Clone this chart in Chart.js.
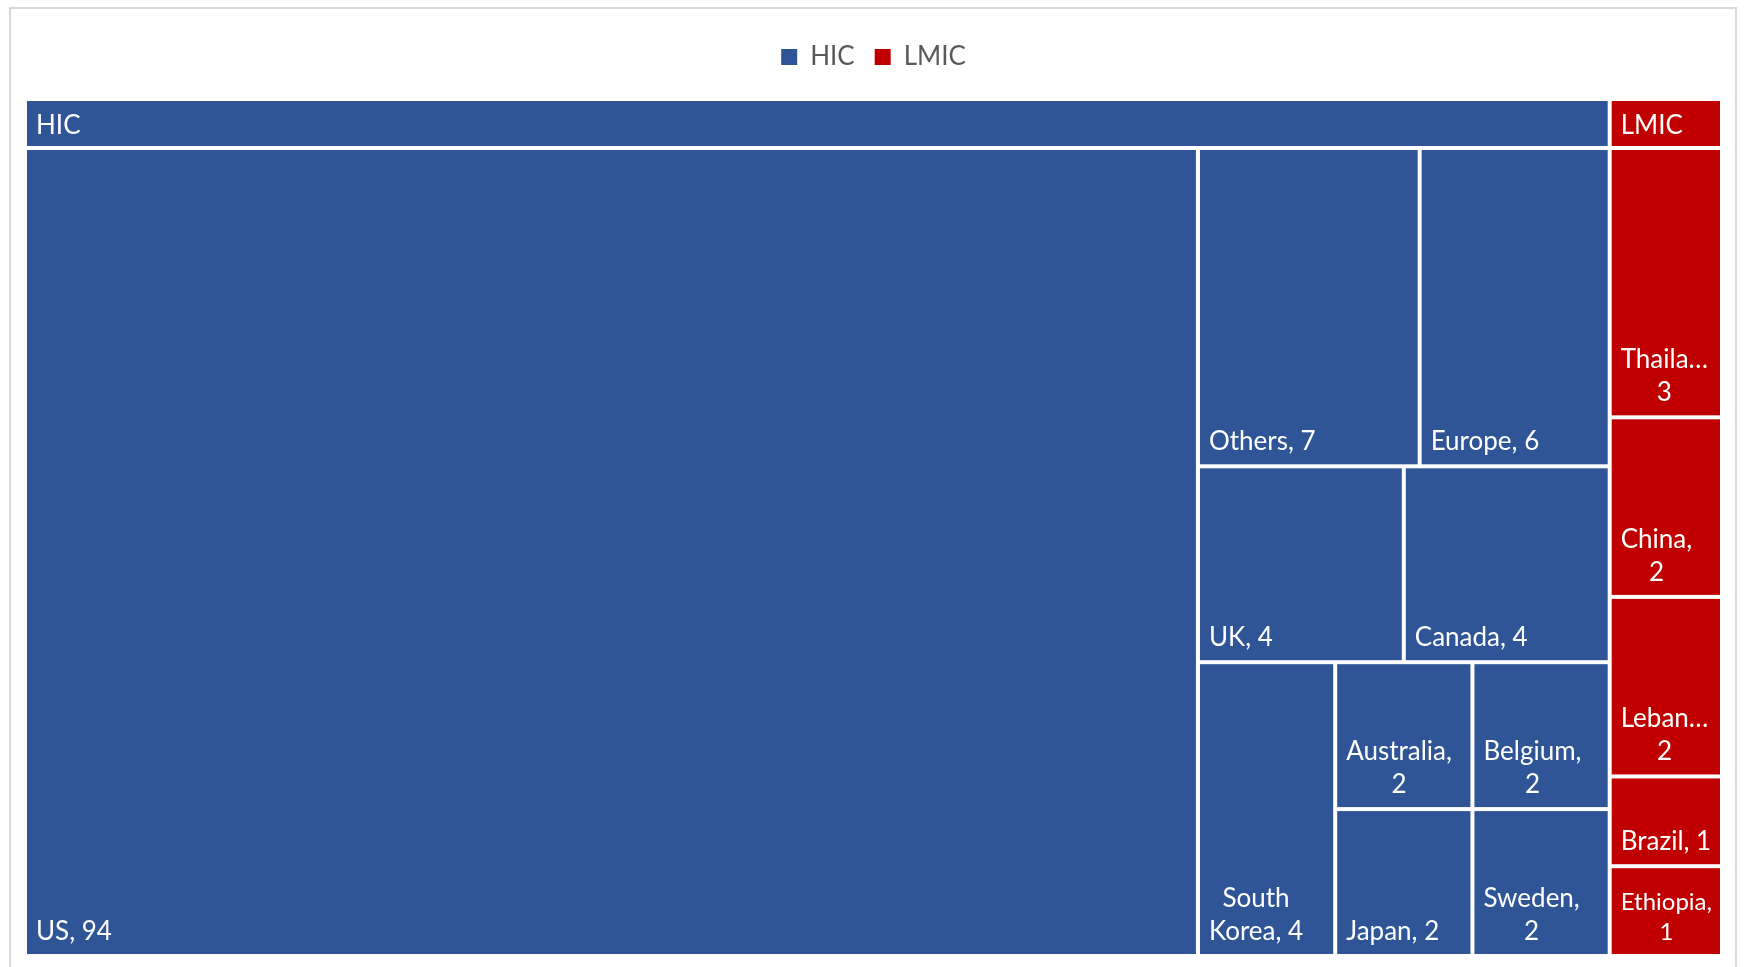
<!DOCTYPE html>
<html lang="en">
<head>
<meta charset="UTF-8" />
<title>Studies by Country Income Group</title>
<script src="https://cdn.jsdelivr.net/npm/chart.js"></script>
<style>
  body { margin: 0; background: #ffffff; }
  .frame {
    position: absolute; left: 9px; top: 7px;
    width: 1728px; height: 1000px;
    border: 2px solid #d9d9d9; box-sizing: border-box;
  }
  canvas { position: absolute; left: 0; top: 0; }
</style>
</head>
<body>
<div class="frame"></div>
<canvas id="treemap" width="1745" height="967"></canvas>
<script>
// number of studies per country, split by income group
const groups = ['HIC', 'LMIC'];
const groupColors = ['#2f5597', '#c00000'];
const hicCountries = ['US', 'Others', 'Europe', 'UK', 'Canada', 'South Korea', 'Australia', 'Belgium', 'Japan', 'Sweden'];
const hicCounts = [94, 7, 6, 4, 4, 4, 2, 2, 2, 2];
const lmicCountries = ['Thailand', 'China', 'Lebanon', 'Brazil', 'Ethiopia'];
const lmicCounts = [3, 2, 2, 1, 1];

const groupCountries = [hicCountries, lmicCountries];
const groupCounts = [hicCounts, lmicCounts];
const sum = arr => arr.reduce((a, b) => a + b, 0);
const groupTotals = groupCounts.map(sum);
const grandTotal = sum(groupTotals);

const FONT = 'Lato';
const TOP_GAP = 19;     // space between legend and treemap
const HEADER_PX = 49;   // height of the group header band
const GAP = 2;          // white border drawn around every cell

// worst aspect ratio of a row laid along a side of the given length
function worstRatio(row, side, areaPerValue) {
  const thick = sum(row.map(r => r.v)) * areaPerValue / side;
  let w = 0;
  row.forEach(r => {
    const len = r.v * areaPerValue / thick;
    w = Math.max(w, len / thick, thick / len);
  });
  return w;
}

// squarified layout in scale units; kx / ky are pixels per unit
function squarify(values, rect, kx, ky) {
  const out = [];
  const items = values.map((v, i) => ({ v, i }));
  let { x, y, w, h } = rect;
  let rest = sum(values);
  let start = 0;
  while (start < items.length) {
    const pw = w * kx, ph = h * ky;
    const column = pw >= ph;
    const side = column ? ph : pw;
    const areaPerValue = pw * ph / rest;
    let end = start + 1;
    let best = worstRatio(items.slice(start, end), side, areaPerValue);
    // only grow the row while it clearly improves the shapes
    while (end < items.length) {
      const next = worstRatio(items.slice(start, end + 1), side, areaPerValue);
      if (next > best * 0.97) break;
      best = next;
      end++;
    }
    const row = items.slice(start, end);
    const rowSum = sum(row.map(r => r.v));
    if (column) {
      const rw = w * rowSum / rest;
      let cy = y;
      row.forEach(r => { const ih = h * r.v / rowSum; out[r.i] = { x, y: cy, w: rw, h: ih }; cy += ih; });
      x += rw; w -= rw;
    } else {
      const rh = h * rowSum / rest;
      let cx = x;
      row.forEach(r => { const iw = w * r.v / rowSum; out[r.i] = { x: cx, y, w: iw, h: rh }; cx += iw; });
      y += rh; h -= rh;
    }
    rest -= rowSum;
    start = end;
  }
  return out;
}

// greedy word wrap, cutting words that are too long with an ellipsis
function wrapText(ctx, text, maxW) {
  const words = text.split(' ');
  const lines = [];
  let cur = '';
  words.forEach(word => {
    let wd = word;
    if (ctx.measureText(wd).width > maxW) {
      while (wd.length > 1 && ctx.measureText(wd + '…').width > maxW) wd = wd.slice(0, -1);
      wd += '…';
    }
    const test = cur ? cur + ' ' + wd : wd;
    if (cur && ctx.measureText(test).width > maxW) {
      lines.push(cur);
      cur = wd;
    } else {
      cur = test;
    }
  });
  if (cur) lines.push(cur);
  return lines;
}

// label block sits bottom-left; lines are centred inside the block
function drawCellLabel(ctx, text, box) {
  let size = 26, lines, lineH;
  for (; size >= 14; size--) {
    ctx.font = size + 'px ' + FONT;
    lines = wrapText(ctx, text, box.w - 16);
    lineH = Math.round(size * 1.27);
    if (lines.length * lineH + 24 <= box.h) break;
  }
  const blockW = Math.max(...lines.map(l => ctx.measureText(l).width));
  ctx.fillStyle = '#ffffff';
  ctx.textAlign = 'center';
  ctx.textBaseline = 'alphabetic';
  const bottom = box.y + box.h - 14;
  lines.forEach((line, i) => {
    const by = bottom - (lines.length - 1 - i) * lineH;
    ctx.fillText(line, box.x + 9 + blockW / 2, by);
  });
}

const treemapPlugin = {
  id: 'treemap',
  afterDatasetsDraw(chart) {
    const { ctx, chartArea, scales: { x, y } } = chart;
    const kx = chartArea.width / (x.max - x.min);
    const ky = chartArea.height / (y.max - y.min);
    const px = r => {
      const l = x.getPixelForValue(r.x), rr = x.getPixelForValue(r.x + r.w);
      const t = y.getPixelForValue(r.y), b = y.getPixelForValue(r.y + r.h);
      return { x: l + GAP, y: t + GAP, w: rr - l - 2 * GAP, h: b - t - 2 * GAP };
    };
    const top = TOP_GAP / ky;
    const groupRects = squarify(groupTotals, { x: 0, y: top, w: grandTotal, h: 1 - top }, kx, ky);
    ctx.save();
    groupRects.forEach((g, gi) => {
      const headerH = HEADER_PX / ky;
      const header = px({ x: g.x, y: g.y, w: g.w, h: headerH });
      ctx.fillStyle = groupColors[gi];
      ctx.fillRect(header.x, header.y, header.w, header.h);
      ctx.fillStyle = '#ffffff';
      ctx.font = '26px ' + FONT;
      ctx.textAlign = 'left';
      ctx.textBaseline = 'alphabetic';
      ctx.fillText(groups[gi], header.x + 9, header.y + header.h - 12);

      const body = { x: g.x, y: g.y + headerH, w: g.w, h: g.h - headerH };
      const cells = squarify(groupCounts[gi], body, kx, ky);
      cells.forEach((c, ci) => {
        const box = px(c);
        ctx.fillStyle = groupColors[gi];
        ctx.fillRect(box.x, box.y, box.w, box.h);
        drawCellLabel(ctx, groupCountries[gi][ci] + ', ' + groupCounts[gi][ci], box);
      });
    });
    ctx.restore();
  }
};

new Chart(document.getElementById('treemap'), {
  type: 'scatter',
  data: {
    datasets: groups.map((g, i) => ({
      label: g,
      data: [],
      backgroundColor: groupColors[i],
      borderColor: groupColors[i],
      borderWidth: 0
    }))
  },
  options: {
    responsive: false,
    animation: false,
    devicePixelRatio: 1,
    layout: { padding: { left: 25, right: 23, top: 24, bottom: 11 } },
    scales: {
      x: { type: 'linear', min: 0, max: grandTotal, display: false },
      y: { type: 'linear', min: 0, max: 1, reverse: true, display: false }
    },
    plugins: {
      tooltip: { enabled: false },
      legend: {
        position: 'top',
        onClick: null,
        labels: {
          boxWidth: 16,
          boxHeight: 16,
          padding: 20,
          color: '#595959',
          font: { family: FONT, size: 26 }
        }
      }
    }
  },
  plugins: [treemapPlugin]
});
</script>
</body>
</html>
